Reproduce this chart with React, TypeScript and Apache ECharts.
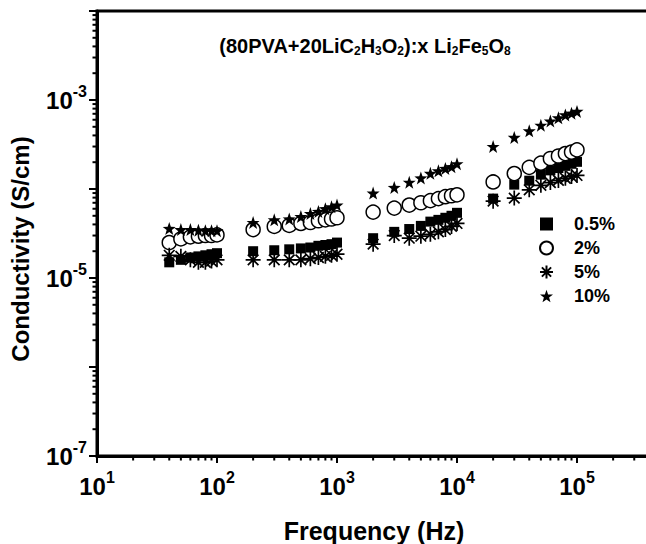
import React, { useEffect, useRef } from "react";
import * as echarts from "echarts";

const FREQ = [
  40, 50, 60, 70, 80, 90, 100,
  200, 300, 400, 500, 600, 700, 800, 900, 1000,
  2000, 3000, 4000, 5000, 6000, 7000, 8000, 9000, 10000,
  20000, 30000, 40000, 50000, 60000, 70000, 80000, 90000, 100000,
];

const S_05 = [
  1.5e-5, 1.6e-5, 1.7e-5, 1.75e-5, 1.8e-5, 1.85e-5, 1.9e-5,
  2.0e-5, 2.05e-5, 2.1e-5, 2.15e-5, 2.2e-5, 2.3e-5, 2.35e-5, 2.4e-5, 2.5e-5,
  2.8e-5, 3.3e-5, 3.55e-5, 3.85e-5, 4.3e-5, 4.5e-5, 4.75e-5, 5.0e-5, 5.4e-5,
  7.8e-5, 1.12e-4, 1.24e-4, 1.45e-4, 1.62e-4, 1.72e-4, 1.82e-4, 1.92e-4, 2.02e-4,
];
const S_2 = [
  2.5e-5, 2.75e-5, 2.9e-5, 2.95e-5, 3.0e-5, 3.0e-5, 3.05e-5,
  3.5e-5, 3.8e-5, 3.9e-5, 4.1e-5, 4.2e-5, 4.4e-5, 4.5e-5, 4.6e-5, 4.75e-5,
  5.5e-5, 6.1e-5, 6.6e-5, 7.0e-5, 7.4e-5, 7.8e-5, 8.2e-5, 8.4e-5, 8.6e-5,
  1.2e-4, 1.49e-4, 1.75e-4, 1.95e-4, 2.2e-4, 2.35e-4, 2.5e-4, 2.6e-4, 2.75e-4,
];
const S_5 = [
  1.8e-5, 1.75e-5, 1.6e-5, 1.5e-5, 1.5e-5, 1.55e-5, 1.6e-5,
  1.6e-5, 1.6e-5, 1.6e-5, 1.6e-5, 1.65e-5, 1.7e-5, 1.75e-5, 1.8e-5, 1.85e-5,
  2.4e-5, 3.0e-5, 2.8e-5, 2.95e-5, 3.1e-5, 3.3e-5, 3.5e-5, 3.8e-5, 4.1e-5,
  7.3e-5, 7.9e-5, 9.8e-5, 1.1e-4, 1.18e-4, 1.25e-4, 1.32e-4, 1.38e-4, 1.42e-4,
];
const S_10 = [
  3.6e-5, 3.5e-5, 3.5e-5, 3.45e-5, 3.4e-5, 3.4e-5, 3.4e-5,
  4.2e-5, 4.5e-5, 4.6e-5, 4.9e-5, 5.3e-5, 5.6e-5, 6.0e-5, 6.3e-5, 6.6e-5,
  9.0e-5, 1.04e-4, 1.19e-4, 1.33e-4, 1.5e-4, 1.6e-4, 1.7e-4, 1.78e-4, 1.92e-4,
  3.0e-4, 3.8e-4, 4.5e-4, 5.2e-4, 5.8e-4, 6.3e-4, 6.8e-4, 7.1e-4, 7.45e-4,
];

const SERIES_NAMES = ["0.5%", "2%", "5%", "10%"];
const X_LABEL_EXPONENTS = [1, 2, 3, 4, 5];
const Y_LABEL_EXPONENTS = [-7, -5, -3];
const MINOR_MULTIPLIERS = [2, 3, 4, 5, 6, 7, 8, 9];
const X_DECADES = [10, 100, 1000, 10000, 100000];
const Y_DECADES = [1e-7, 1e-6, 1e-5, 1e-4, 1e-3];

const X_MIN = 10;
const X_MAX = 1e6;
const Y_MIN = 1e-7;
const Y_MAX = 1e-2;

const FONT = '"Liberation Sans", Arial, sans-serif';

const STAR_PATH =
  "path://M0,-1L0.235,-0.324L0.951,-0.309L0.38,0.124L0.588,0.809L0,0.4L-0.588,0.809L-0.38,0.124L-0.951,-0.309L-0.235,-0.324Z";
const ASTERISK_PATH =
  "path://M0,-1L0,1M-1,0L1,0M-0.707,-0.707L0.707,0.707M-0.707,0.707L0.707,-0.707";

const xMinor = X_DECADES.flatMap((d) => MINOR_MULTIPLIERS.map((m) => [m * d, Y_MIN]));
const yMinor = Y_DECADES.flatMap((d) => MINOR_MULTIPLIERS.map((m) => [X_MIN, m * d]));

const expOf = (v: number) => Math.round(Math.log10(v));

const labelRich = {
  b: { fontSize: 24, fontWeight: "bold", fontFamily: FONT, color: "#000", lineHeight: 34 },
  s: { fontSize: 16, fontWeight: "bold", fontFamily: FONT, color: "#000", verticalAlign: "top" },
};

export default function App() {
  const ref = useRef<HTMLDivElement>(null);

  useEffect(() => {
    if (!ref.current) return;
    const chart = echarts.init(ref.current, undefined, { renderer: "svg" });

    const pts = (ys: number[]) => FREQ.map((f, i) => [f, ys[i]]);

    const option: any = {
      animation: false,
      backgroundColor: "#fff",
      grid: {
        left: 97,
        top: 11,
        right: 63,
        bottom: 88,
        show: true,
        borderColor: "#000",
        borderWidth: 3,
      },
      legend: {
        orient: "vertical",
        left: 534,
        top: 210,
        itemWidth: 13,
        itemHeight: 13,
        itemGap: 6,
        data: SERIES_NAMES,
        formatter: (n: string) => `{t|${n}}`,
        textStyle: {
          fontSize: 18,
          fontWeight: "bold",
          fontFamily: FONT,
          color: "#000",
          rich: {
            t: {
              fontSize: 18,
              fontWeight: "bold",
              fontFamily: FONT,
              color: "#000",
              padding: [0, 0, 0, 16],
            },
          },
        },
      },
      xAxis: {
        type: "log",
        min: X_MIN,
        max: X_MAX,
        logBase: 10,
        axisLine: { show: true, onZero: false, lineStyle: { color: "#000", width: 3 } },
        axisTick: { show: true, length: 7, lineStyle: { color: "#000", width: 2 } },
        splitLine: { show: false },
        axisLabel: {
          fontSize: 24,
          fontWeight: "bold",
          fontFamily: FONT,
          color: "#000",
          margin: 13,
          formatter: (v: number) => {
            const e = expOf(v);
            return X_LABEL_EXPONENTS.includes(e) ? `{b|10}{s|${e}}` : "";
          },
          rich: labelRich,
        },
      },
      yAxis: {
        type: "log",
        min: Y_MIN,
        max: Y_MAX,
        logBase: 10,
        axisLine: { show: true, onZero: false, lineStyle: { color: "#000", width: 3 } },
        axisTick: { show: true, length: 8, lineStyle: { color: "#000", width: 2 } },
        splitLine: { show: false },
        axisLabel: {
          fontSize: 24,
          fontWeight: "bold",
          fontFamily: FONT,
          color: "#000",
          margin: 10,
          formatter: (v: number) => {
            const e = expOf(v);
            return Y_LABEL_EXPONENTS.includes(e) ? `{b|10}{s|${e}}` : "";
          },
          rich: labelRich,
        },
      },
      graphic: [
        {
          type: "text",
          x: 365,
          y: 46,
          style: {
            text: "(80PVA+20LiC{s|2}H{s|3}O{s|2}):x Li{s|2}Fe{s|5}O{s|8}",
            fontSize: 20,
            fontWeight: "bold",
            fontFamily: FONT,
            fill: "#000",
            lineHeight: 22,
            textAlign: "center",
            textVerticalAlign: "middle",
            rich: {
              s: {
                fontSize: 12,
                fontWeight: "bold",
                fontFamily: FONT,
                fill: "#000",
                verticalAlign: "bottom",
              },
            },
          },
        },
        {
          type: "text",
          x: 374,
          y: 531,
          style: {
            text: "Frequency (Hz)",
            fontSize: 25,
            fontWeight: "bold",
            fontFamily: FONT,
            fill: "#000",
            textAlign: "center",
            textVerticalAlign: "middle",
          },
        },
        {
          type: "text",
          x: 20,
          y: 249,
          rotation: Math.PI / 2,
          style: {
            text: "Conductivity (S/cm)",
            fontSize: 24,
            fontWeight: "bold",
            fontFamily: FONT,
            fill: "#000",
            textAlign: "center",
            textVerticalAlign: "middle",
          },
        },
      ],
      series: [
        {
          name: SERIES_NAMES[0],
          type: "scatter",
          symbol: "rect",
          symbolSize: 10,
          itemStyle: { color: "#000", opacity: 1 },
          data: pts(S_05),
          z: 3,
        },
        {
          name: SERIES_NAMES[1],
          type: "scatter",
          symbol: "circle",
          symbolSize: 14,
          itemStyle: { color: "#fff", borderColor: "#000", borderWidth: 1.5, opacity: 1 },
          data: pts(S_2),
          z: 4,
        },
        {
          name: SERIES_NAMES[2],
          type: "scatter",
          symbol: ASTERISK_PATH,
          symbolSize: 15,
          itemStyle: { color: "#000", borderColor: "#000", borderWidth: 1.7, opacity: 1 },
          data: pts(S_5),
          z: 5,
        },
        {
          name: SERIES_NAMES[3],
          type: "scatter",
          symbol: STAR_PATH,
          symbolSize: 13,
          itemStyle: { color: "#000", opacity: 1 },
          data: pts(S_10),
          z: 6,
        },
        {
          name: "xMinor",
          type: "custom",
          silent: true,
          clip: false,
          data: xMinor,
          encode: { x: 0, y: 1 },
          renderItem: (_p: any, api: any) => {
            const c = api.coord([api.value(0), api.value(1)]);
            return {
              type: "line",
              shape: { x1: c[0], y1: c[1], x2: c[0], y2: c[1] + 4.5 },
              style: { stroke: "#000", lineWidth: 2 },
            };
          },
        },
        {
          name: "yMinor",
          type: "custom",
          silent: true,
          clip: false,
          data: yMinor,
          encode: { x: 0, y: 1 },
          renderItem: (_p: any, api: any) => {
            const c = api.coord([api.value(0), api.value(1)]);
            return {
              type: "line",
              shape: { x1: c[0], y1: c[1], x2: c[0] - 4.5, y2: c[1] },
              style: { stroke: "#000", lineWidth: 2 },
            };
          },
        },
      ],
    };

    chart.setOption(option);
    return () => chart.dispose();
  }, []);

  return (
    <div
      style={{
        position: "absolute",
        left: 0,
        top: 0,
        width: 646,
        height: 544,
        overflow: "hidden",
        background: "#fff",
      }}
    >
      <div ref={ref} style={{ width: 760, height: 544 }} />
    </div>
  );
}
